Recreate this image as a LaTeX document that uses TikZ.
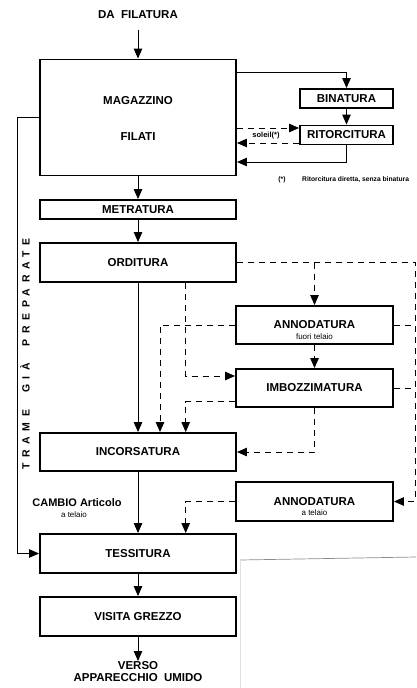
\documentclass[tikz,border=0pt]{standalone}
\usepackage{fontspec}
\setmainfont{Liberation Sans}
\usetikzlibrary{arrows.meta}
\begin{document}
\begin{tikzpicture}[x=1pt,y=-1pt,
  box/.style={draw, line width=1.9pt, inner sep=0pt},
  wide/.style={box, minimum width=196pt},
  side/.style={box, minimum width=157pt},
  btxt/.style={font=\bfseries\fontsize{11.5}{13}\selectfont, inner sep=0pt},
  stxt/.style={font=\fontsize{8}{9}\selectfont, inner sep=0pt},
  conn/.style={line width=1pt, -{Triangle[length=10pt,width=8.5pt]}},
  plain/.style={line width=1pt},
  dsh/.style={dash pattern=on 6pt off 5pt}
]
\useasboundingbox (0,0) rectangle (416,688);

% main column
\node[btxt] (src) at (138,15) {DA\ \ FILATURA};
\coordinate (srcarr) at (138,30);
\node[wide, minimum height=116pt] (mag) at (138,117.5) {};
\node[btxt] at ([yshift=17pt]mag.center) {MAGAZZINO};
\node[btxt] at ([yshift=-19.5pt]mag.center) {FILATI};
\node[wide, minimum height=19pt, btxt] (met) at (138,209.5) {METRATURA};
\node[wide, minimum height=39pt, btxt] (ord) at (138,262.5) {ORDITURA};
\node[wide, minimum height=38pt, btxt] (inc) at (138,452) {INCORSATURA};
\node[wide, minimum height=39pt, btxt] (tes) at (138,553.5) {TESSITURA};
\node[wide, minimum height=39pt, btxt] (vis) at (138,616.5) {VISITA GREZZO};
\node[btxt, align=center, anchor=north, font=\bfseries\fontsize{11.5}{12}\selectfont]
  (out) at (138,661) {VERSO\\APPARECCHIO\ \ UMIDO};

% twisting branch
\node[box, minimum width=93pt, minimum height=19pt, btxt] (bin) at (346.5,98.5) {BINATURA};
\node[box, minimum width=93pt, minimum height=19pt, btxt] (rit) at (346.5,135) {RITORCITURA};
\node[font=\bfseries\fontsize{7.5}{8}\selectfont, inner sep=0pt] (sol) at (266,136) {soleil(*)};
\node[font=\bfseries\fontsize{6.7}{7}\selectfont, inner sep=0pt] (fnm) at (282,180) {(*)};
\node[font=\bfseries\fontsize{6.7}{7}\selectfont, inner sep=0pt, anchor=west] (fnt) at (302,180)
  {Ritorcitura diretta, senza binatura};

% side operations
\node[side, minimum height=38pt] (ann1) at (314.5,325) {};
\node[btxt] at (ann1.center) {ANNODATURA};
\node[stxt] at ([yshift=-12pt]ann1.center) {fuori telaio};
\node[side, minimum height=38pt, btxt] (imb) at (314.5,388) {IMBOZZIMATURA};
\node[side, minimum height=39pt] (ann2) at (314.5,501.5) {};
\node[btxt] at (ann2.center) {ANNODATURA};
\node[stxt] at ([yshift=-11.5pt]ann2.center) {a telaio};

% labels on the left
\node[font=\bfseries\fontsize{11}{12}\selectfont, inner sep=0pt] (cambio) at (77,502.5) {CAMBIO Articolo};
\node[stxt] (cambiob) at (74,515) {a telaio};
\node[rotate=90, inner sep=0pt, font=\bfseries\fontsize{10.5}{12}\selectfont] (trame) at (25,354)
  {\addfontfeature{LetterSpace=53}TRAME\ \ GIÀ\ \ PREPARATE};

% helper columns
\coordinate (rail) at (415,0);
\coordinate (c2) at (160,0);
\coordinate (c3) at (185.7,0);

% solid flow
\draw[conn] (srcarr) -- (mag.north);
\draw[conn] ([yshift=45.5pt]mag.east) -| (bin.north);
\draw[conn] (bin.south) -- (rit.north);
\draw[conn, dsh] ([yshift=-10.5pt]mag.east) -- ([yshift=7pt]rit.west);
\draw[conn, dsh] ([yshift=-8pt]rit.west) -- ([yshift=-25.5pt]mag.east);
\draw[conn] (rit.south) |- ([yshift=-44.5pt]mag.east);
\draw[conn] (mag.south) -- (met.north);
\draw[conn] (met.south) -- (ord.north);
\draw[conn] (ord.south) -- (inc.north);
\draw[conn] (inc.south) -- (tes.north);
\draw[conn] (tes.south) -- (vis.north);
\draw[conn] (vis.south) -- (out.north);
\draw[conn] (mag.west) -- ++(-22,0) |- (tes.west);

% dashed alternatives
\draw[conn, dsh] (ord.east) -| (rail |- ann2.east) -- (ann2.east);
\draw[conn, dsh] (ann1.north |- ord.east) -- (ann1.north);
\draw[plain, dsh] (ann1.east) -- (rail |- ann1.east);
\draw[plain, dsh] (imb.east) -- (rail |- imb.east);
\draw[conn, dsh] (ann1.west) -| (c2 |- inc.north);
\draw[conn, dsh] (c3 |- ord.south) |- ([yshift=12pt]imb.west);
\draw[conn, dsh] ([yshift=-13.5pt]imb.west) -| (c3 |- inc.north);
\draw[conn, dsh] (ann1.south) -- (imb.north);
\draw[conn, dsh] (imb.south) |- (inc.east);
\draw[conn, dsh] (ann2.west) -| (c3 |- tes.north);

% sheet edge
\draw[black!45, line width=0.7pt] (240,560) -- (416,557);
\draw[black!12, line width=0.5pt] (240,560) -- (240,688);
\end{tikzpicture}
\end{document}
